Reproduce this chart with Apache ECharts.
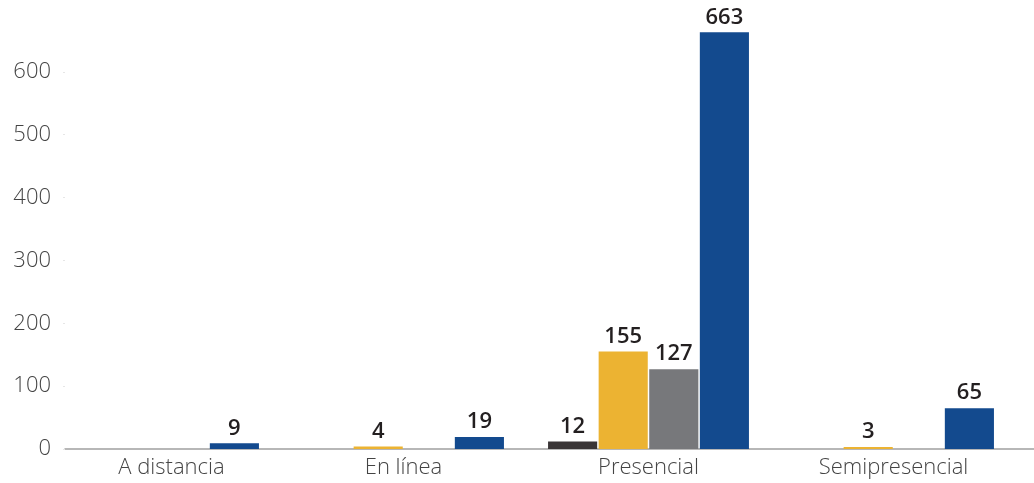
<!DOCTYPE html>
<html>
<head>
<meta charset="utf-8">
<script src="https://cdn.jsdelivr.net/npm/echarts@6/dist/echarts.min.js"></script>
<style>html,body{margin:0;padding:0;background:#fff}#c{width:1034px;height:483px}</style>
</head>
<body>
<div id="c"></div>
<script>
const categories = ['A distancia', 'En línea', 'Presencial', 'Semipresencial'];
const seriesNames = ['Serie 1', 'Serie 2', 'Serie 3', 'Serie 4'];
const serie1 = [null, null, 12, null];
const serie2 = [null, 4, 155, 3];
const serie3 = [null, null, 127, null];
const serie4 = [9, 19, 663, 65];
const yTicks = [0, 100, 200, 300, 400, 500, 600];

const colors = ['#3a3536', '#ecb332', '#77787b', '#134a8e'];
const values = [serie1, serie2, serie3, serie4];
const FONT = 'Open Sans';

const chart = echarts.init(document.getElementById('c'));
chart.setOption({
  animation: false,
  textStyle: { fontFamily: FONT },
  grid: [
    { left: 36, right: 18, top: 9, bottom: 34 },
    { left: 65, right: 0, top: 9, bottom: 34 }
  ],
  xAxis: [
    {
      type: 'category', gridIndex: 0, data: categories,
      axisLine: { show: false }, axisTick: { show: false },
      axisLabel: {
        fontFamily: FONT, fontSize: 22, fontWeight: 300, color: '#444', margin: 8,
        formatter: (v, i) => (i === 0 ? '{f|' + v + '}' : v),
        rich: { f: { fontFamily: FONT, fontSize: 22, fontWeight: 300, color: '#444', padding: [0, 0, 0, 26] } }
      }
    },
    {
      type: 'category', gridIndex: 1, data: categories,
      axisLine: { show: true, lineStyle: { color: '#a0a0a0', width: 1.5 } },
      axisTick: { show: false }, axisLabel: { show: false }
    }
  ],
  yAxis: [
    {
      type: 'value', gridIndex: 0, min: 0, max: 700, interval: 100, show: false,
      splitLine: { show: false }
    },
    {
      type: 'value', gridIndex: 1, min: 0, max: 700, interval: 100,
      axisLine: { show: false },
      axisTick: { show: true, length: 2, customValues: yTicks, lineStyle: { color: '#e6e6e6' } },
      splitLine: { show: false },
      axisLabel: {
        fontFamily: FONT, fontSize: 22, fontWeight: 300, color: '#444', margin: 14,
        customValues: yTicks
      }
    }
  ],
  series: values.map((d, i) => ({
    name: seriesNames[i],
    type: 'bar',
    xAxisIndex: 0, yAxisIndex: 0,
    data: d,
    barGap: '3%',
    barCategoryGap: '18%',
    itemStyle: { color: colors[i] },
    label: {
      show: true, position: 'top', distance: 4,
      fontFamily: FONT, fontSize: 22, fontWeight: 600, color: '#231f20'
    }
  }))
});
</script>
</body>
</html>
